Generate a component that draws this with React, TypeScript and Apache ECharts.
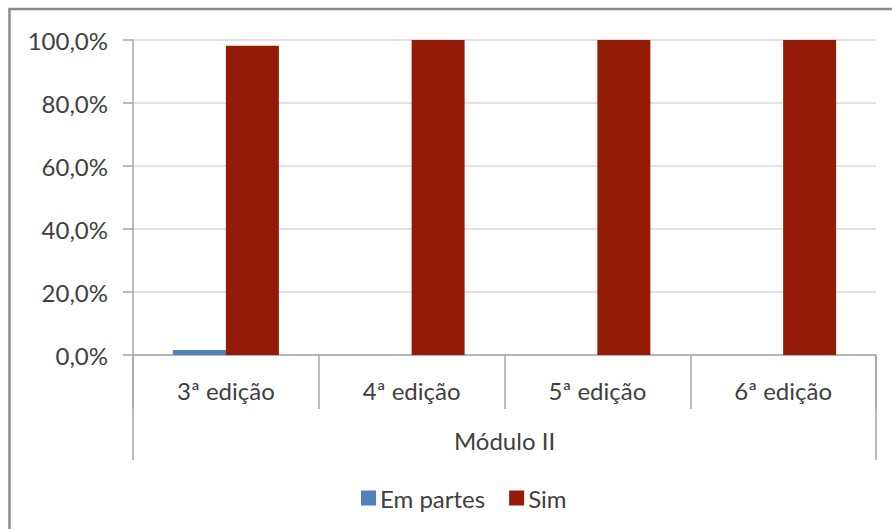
import React, { useEffect, useRef } from "react";
import * as echarts from "echarts";

const categories = ["3ª edição", "4ª edição", "5ª edição", "6ª edição"];
const groupLabel = ["Módulo II"];
const emPartes = [0.016, 0, 0, 0];
const sim = [0.982, 1, 1, 1];
const seriesNames = ["Em partes", "Sim"];

const FONT = "Lato";
const FS = 24;
const TXT = "#404040";

export default function App() {
  const ref = useRef<HTMLDivElement>(null);
  useEffect(() => {
    const chart = echarts.init(ref.current!, undefined, { renderer: "svg" });
    chart.setOption({
      animation: false,
      textStyle: { fontFamily: FONT },
      grid: { left: 133, right: 16, top: 40, bottom: 174, containLabel: false },
      legend: {
        left: 356,
        top: 481,
        itemWidth: 15,
        itemHeight: 15,
        itemGap: 24,
        icon: "rect",
        textStyle: { fontFamily: FONT, fontSize: FS, color: TXT, padding: [0, 0, 0, -1] },
        data: seriesNames,
      },
      graphic: [
        {
          type: "rect",
          shape: { x: 9.5, y: 9, width: 1000, height: 1000 },
          style: { fill: "none", stroke: "#8c8c8c", lineWidth: 2.5 },
          silent: true,
        },
      ],
      xAxis: [
        {
          type: "category",
          data: categories,
          position: "bottom",
          axisLine: { show: true, lineStyle: { color: "#a6a6a6", width: 1.5 } },
          axisTick: { show: true, length: 54, lineStyle: { color: "#a6a6a6", width: 1.5 } },
          axisLabel: { margin: 23, fontSize: FS, color: TXT, fontFamily: FONT },
          splitLine: { show: false },
        },
        {
          type: "category",
          data: groupLabel,
          position: "bottom",
          axisLine: { show: false },
          axisTick: { show: true, length: 105, lineStyle: { color: "#a6a6a6", width: 1.5 } },
          axisLabel: { margin: 73, fontSize: FS, color: TXT, fontFamily: FONT },
        },
      ],
      yAxis: {
        type: "value",
        min: 0,
        max: 1,
        interval: 0.2,
        axisLine: { show: true, lineStyle: { color: "#a6a6a6", width: 1.5 } },
        axisTick: { show: true, length: 10, lineStyle: { color: "#a6a6a6", width: 1.5 } },
        axisLabel: {
          margin: 25,
          fontSize: FS,
          color: TXT,
          fontFamily: FONT,
          formatter: (v: number) => (v * 100).toFixed(1).replace(".", ",") + "%",
        },
        splitLine: { show: true, lineStyle: { color: "#d9d9d9", width: 1.5 } },
      },
      series: [
        {
          name: seriesNames[0],
          type: "bar",
          data: emPartes,
          barWidth: 53,
          barGap: "0%",
          itemStyle: { color: "#4f81bd" },
        },
        {
          name: seriesNames[1],
          type: "bar",
          data: sim,
          barWidth: 53,
          barGap: "0%",
          itemStyle: { color: "#941b08" },
        },
      ],
    });
    return () => chart.dispose();
  }, []);
  return (
    <div
      ref={ref}
      style={{ position: "fixed", left: 0, top: 0, width: 892, height: 529, background: "#fff" }}
    />
  );
}
